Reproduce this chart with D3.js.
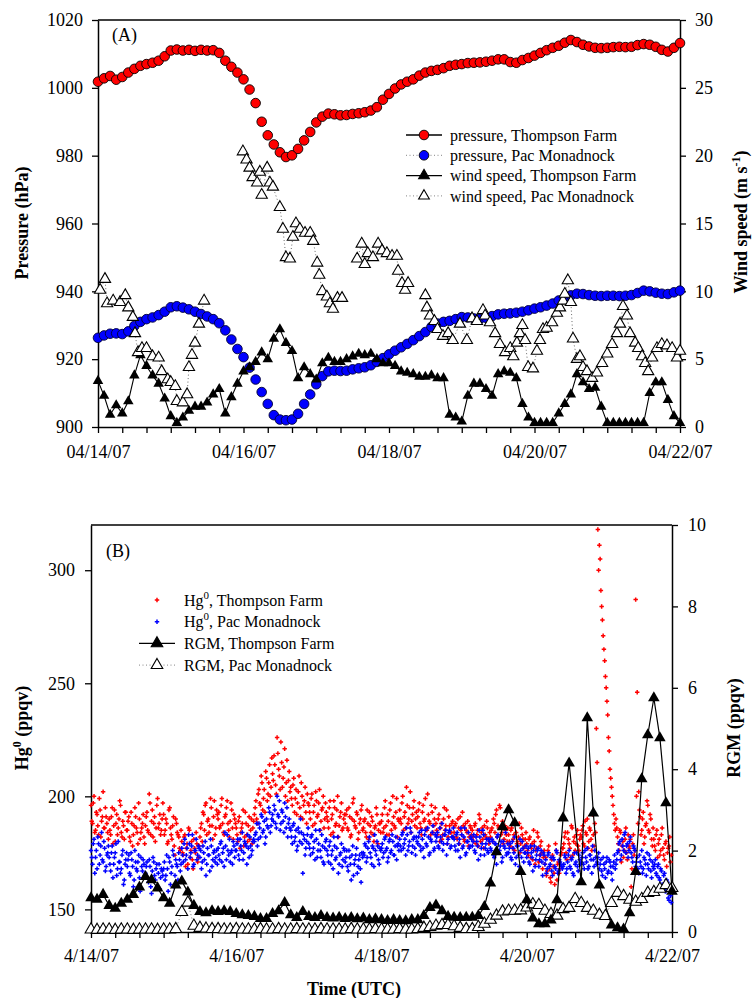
<!DOCTYPE html>
<html>
<head>
<meta charset="utf-8">
<title>Pressure, wind speed, Hg0 and RGM</title>
<style>
  body { margin: 0; background: #fff; }
  svg text { font-family: "Liberation Serif", "Times New Roman", serif; fill: #000; }
</style>
</head>
<body>
<div id="chart"></div>
<script src="https://cdn.jsdelivr.net/npm/d3@7"></script>
<script>
// ---------- data ----------
// panel A: 2-hourly, hours since 04/14/07 00:00 UTC (0..192)
var pressTF = [
  1001.8, 1002.8, 1003.5, 1002.4, 1003.2, 1004.5, 1005.6, 1006.5, 1007.0, 1007.4, 1008.0, 1009.3,
  1011.0, 1011.3, 1011.0, 1011.2, 1010.9, 1011.2, 1011.0, 1011.1, 1010.3, 1008.0, 1006.2, 1004.5,
  1002.5, 999.5, 995.5, 990.0, 986.0, 983.3, 981.0, 979.6, 980.1, 982.0, 984.5, 987.0,
  989.8, 991.5, 992.4, 992.2, 991.9, 992.0, 992.3, 992.5, 992.8, 993.3, 994.3, 996.5,
  998.2, 999.8, 1001.0, 1001.8, 1002.5, 1003.6, 1004.5, 1005.0, 1005.3, 1005.8, 1006.5, 1006.8,
  1007.0, 1007.3, 1007.4, 1007.5, 1007.7, 1008.0, 1008.4, 1008.4, 1007.6, 1007.4, 1008.2, 1008.8,
  1009.5, 1010.3, 1011.1, 1011.8, 1012.4, 1013.3, 1014.1, 1013.5, 1012.7, 1012.2, 1011.8, 1011.7,
  1011.8, 1012.0, 1012.1, 1012.0, 1012.1, 1012.6, 1012.9, 1012.7, 1012.1, 1011.2, 1010.7, 1011.8,
  1013.2
];
var pressPM = [
  926.3, 927.0, 927.5, 927.6, 927.4, 928.2, 929.8, 931.0, 931.8, 932.3, 933.0, 934.0,
  935.3, 935.6, 935.2, 934.7, 934.0, 933.3, 932.6, 931.8, 930.6, 928.5, 925.8, 923.0,
  920.6, 917.5, 914.0, 910.3, 906.8, 903.5, 902.2, 902.0, 902.2, 903.9, 906.8, 909.6,
  912.6, 915.0, 916.4, 916.6, 916.5, 916.6, 917.0, 917.3, 917.6, 918.2, 919.2, 920.3,
  921.4, 922.5, 923.5, 924.5, 925.6, 926.8, 928.0, 929.5, 930.5, 931.0, 931.3, 931.8,
  932.4, 932.3, 932.0, 931.9, 932.2, 932.7, 933.2, 933.4, 933.5, 933.7, 934.0, 934.4,
  934.9, 935.3, 935.8, 936.4, 937.3, 938.2, 938.8, 939.3, 939.2, 938.9, 938.7, 938.6,
  938.7, 938.7, 938.6, 938.7, 938.9, 939.5, 940.2, 940.0, 939.6, 939.3, 939.2, 939.7,
  940.2
];
var windTF = [
  3.4, 2.3, 0.9, 1.6, 1.0, 1.9, 3.8, 5.3, 4.5, 3.8, 3.2, 2.1,
  0.8, 0.3, 0.7, 1.2, 1.5, 1.5, 1.8, 2.4, 2.8, 1.0, 2.2, 3.2,
  4.1, 4.4, 4.8, 5.5, 5.0, 6.5, 7.2, 6.2, 5.6, 3.6, 4.4, 3.9,
  3.5, 4.7, 5.1, 4.8, 4.8, 5.0, 5.2, 5.4, 5.3, 5.4, 5.0, 4.7,
  4.7, 4.5, 4.1, 4.0, 3.9, 3.7, 3.7, 3.8, 3.6, 3.6, 0.9, 0.7,
  0.4, 2.3, 3.2, 3.2, 2.8, 2.3, 3.9, 4.1, 4.0, 3.6, 1.7, 0.7,
  0.3, 0.3, 0.3, 0.3, 1.0, 1.7, 2.4, 3.9, 3.3, 2.8, 2.9, 1.5,
  0.3, 0.3, 0.3, 0.3, 0.3, 0.3, 0.3, 2.5, 3.3, 3.3, 2.0, 0.8,
  0.3
];
// Pac Monadnock wind: irregular times (hours) with gaps
var windPMHours = [
  0.7, 2.3, 3, 5, 7.3, 9, 10, 11.5, 12.2, 13.2, 14.5, 16, 18, 20, 21, 23, 24, 25.5, 26, 28, 29.4, 30, 31, 32, 33.3, 35,
  47.8, 49, 50, 51, 52.5, 53.4, 54, 55.8, 56.7, 57.7, 60, 61, 62, 63.3, 64.3, 65.3, 66.6, 68.3, 70, 71, 72.3, 73, 74, 75.5, 76.5, 77.5, 79, 80.5,
  85.5, 87, 88, 89, 90.7, 92.4, 93.7, 95.3, 97, 98.6, 99, 100.3, 101.3, 102.3,
  108, 108.5, 109.5, 111, 112, 113.8, 115.5, 117, 119.4, 121.7, 123.4, 125, 127, 127.7, 129.3, 131, 132.6, 134.3, 136, 137,
  138.2, 139.2, 140, 140.9, 141.9, 143.5, 144.8, 145.8, 146.8, 148, 149.8, 151.4, 152.4, 153.4, 154, 155, 156, 156.7, 158, 159,
  160, 161.3, 163, 164.6, 166.3, 168, 169.6, 171.2, 172.2, 173.2, 174.5, 175.5, 177.2, 178.2, 179.5, 180.5, 181.5, 182.8, 184.4, 186,
  187.7, 189.4, 191, 192
];
var windPM = [
  10.1, 10.9, 9.1, 9.3, 9.2, 9.7, 8.8, 8.1, 6.9, 5.5, 5.8, 5.8, 5.2, 5.1, 4.1, 3.5, 3.3, 3.0, 1.9, 1.8, 2.4, 4.4, 5.3, 6.2, 7.6, 9.3,
  20.3, 19.7, 19.1, 18.4, 18.0, 18.8, 17.1, 19.1, 18.0, 17.7, 16.2, 14.6, 12.5, 12.4, 14.0, 15.0, 14.6, 14.3, 14.3, 13.7, 12.1, 11.2, 10.0, 9.6, 9.1, 8.7, 9.5, 9.5,
  12.4, 13.5, 12.0, 12.8, 12.5, 13.5, 13.0, 12.8, 12.6, 12.6, 11.5, 10.6, 10.1, 10.6,
  9.7, 8.8, 8.2, 7.8, 7.2, 6.7, 6.9, 6.4, 7.6, 6.4, 8.0, 7.8, 8.6, 8.2, 7.7, 6.9, 6.1, 5.5, 5.8, 5.2,
  6.2, 6.9, 7.5, 6.4, 4.4, 4.3, 5.6, 6.4, 7.2, 7.3, 7.7, 8.4, 8.8, 9.3, 9.8, 10.8, 9.2, 6.5, 5.0, 5.2,
  4.4, 4.1, 3.6, 4.0, 4.7, 5.4, 6.1, 6.9, 7.6, 8.9, 8.2, 6.9, 6.2, 5.8, 5.2, 4.7, 4.1, 5.1, 5.8, 6.1,
  6.0, 5.8, 5.1, 5.6
];

// panel B: Hg0 every 30 min from 4/14/07 00:00 UTC (ppqv), on the hour and half hour
var hg0TF = [
  196,188,200,185,192,183,194,189,202,186,191,184, 190,183,195,187,180,192,186,198,184,189,181,193,
  185,191,180,188,183,195,186,179,190,184,188,182, 187,193,184,197,189,182,191,186,199,188,183,190,
  192,185,188,180,195,183,187,178,190,184,182,176, 180,174,183,177,170,185,176,172,181,175,179,173,
  182,188,193,185,197,189,184,199,187,191,183,194, 190,186,196,188,183,192,198,185,189,194,181,190,
  186,180,191,184,188,178,193,183,187,181,190,186, 192,198,188,203,196,206,199,193,208,201,214,204,
  210,218,205,226,212,203,215,208,221,206,198,211, 204,196,208,199,192,202,195,206,190,198,193,201,
  196,190,201,193,188,198,192,203,189,195,186,197, 191,186,198,190,184,195,188,200,187,193,185,190,
  188,194,185,191,183,197,189,186,192,184,190,196, 186,190,182,188,193,184,189,180,187,192,185,188,
  189,184,195,187,192,183,197,188,191,186,199,190, 194,188,200,191,186,196,190,202,189,195,187,193,
  191,197,186,193,189,199,185,192,188,196,184,190, 188,183,192,186,181,190,185,194,182,187,184,189,
  184,188,181,186,191,183,187,180,185,189,182,186, 185,180,188,183,178,190,184,181,187,182,186,179,
  182,186,190,184,194,187,196,183,189,181,185,180, 183,178,186,181,176,184,180,188,179,183,177,181,
  179,174,182,177,172,180,176,184,171,178,175,173, 170,165,176,168,162,174,166,179,163,171,168,175,
  177,182,175,184,179,173,186,180,176,183,178,181, 182,187,178,184,190,180,185,176,183,188,230,318,
  311,291,278,265,253,242,226,212,204,196,188,190, 182,176,184,178,173,181,175,183,177,160,179,174,
  287,246,202,191,185,193,182,188,196,184,190,178, 181,176,185,179,174,183,177,172,180,175,178,171
];
// same station, samples at :15 and :45
var hg0TFq = [
  189,197,184,193,187,199,182,191,186,195,188,181, 185,191,179,194,188,183,190,196,182,187,193,185,
  189,182,193,178,187,191,184,197,181,186,192,179, 191,185,201,183,194,188,180,196,186,192,185,197,
  183,190,179,194,186,181,191,174,188,183,177,185, 175,182,169,179,186,173,180,168,177,184,171,178,
  186,180,192,196,183,190,187,195,181,198,186,192, 193,187,199,184,191,195,188,182,197,186,192,188,
  183,189,177,186,194,182,188,180,191,185,179,189, 195,190,201,197,209,194,203,211,198,206,200,217,
  207,214,201,219,209,224,204,213,200,216,207,202, 199,205,193,203,197,209,191,200,196,204,188,197,
  193,199,187,196,202,191,197,185,194,200,190,193, 189,195,183,192,198,187,194,182,191,197,186,192,
  192,186,195,182,190,199,187,193,181,188,194,185, 189,184,194,181,187,191,183,186,195,179,188,184,
  192,186,198,183,189,194,185,200,187,193,182,189, 190,197,185,193,204,188,195,184,192,198,190,186,
  194,188,183,196,190,186,201,189,183,193,187,195, 185,190,180,188,183,195,187,179,191,184,188,182,
  187,182,190,179,185,193,181,188,184,178,187,183, 182,187,179,185,192,180,186,177,183,189,181,184,
  185,180,188,192,182,186,195,184,179,187,183,186, 180,185,177,183,188,179,182,175,186,181,178,184,
  176,181,173,179,185,170,177,182,174,180,168,176, 173,167,178,164,172,169,161,176,170,166,174,177,
  179,184,172,181,177,187,174,182,179,185,176,183, 185,179,189,183,177,186,181,192,178,184,215,300,
  305,284,271,260,248,236,220,208,200,192,185,186, 179,185,171,180,176,186,172,178,181,168,183,176,
  200,188,194,183,190,179,187,198,185,192,181,186, 178,183,173,181,176,186,174,179,169,177,182,174
];
var hg0PM = [
  176,170,181,173,168,179,174,184,171,177,169,175, 173,167,178,170,175,165,180,171,168,176,163,172,
  169,174,165,172,160,176,168,171,164,173,167,170, 166,171,162,169,157,173,165,168,160,170,164,167,
  168,163,174,158,171,166,176,160,172,169,175,167, 177,171,181,174,168,179,175,183,170,176,172,178,
  173,168,178,172,165,177,174,181,169,175,171,176, 177,172,180,175,169,178,183,174,171,176,180,173,
  176,181,172,178,184,175,179,170,177,182,174,180, 180,184,178,188,182,191,185,179,190,186,193,187,
  192,196,188,200,191,185,194,189,197,186,182,190, 185,179,188,182,176,186,180,184,166,181,177,183,
  179,174,183,177,172,181,176,185,173,178,170,180, 176,171,180,174,168,178,173,182,170,175,169,177,
  171,176,167,173,163,178,170,174,166,172,168,175, 175,179,171,177,182,173,178,169,176,180,172,177,
  177,173,181,176,171,180,175,183,174,178,172,179, 181,176,184,179,174,183,178,186,175,181,177,182,
  179,184,176,181,173,185,178,182,175,180,187,177, 180,184,177,182,188,179,183,174,181,185,178,182,
  181,176,184,179,173,183,178,186,175,180,177,182, 178,183,175,180,172,182,177,185,174,179,176,181,
  177,181,174,179,170,183,176,180,173,178,184,175, 175,179,172,177,182,173,178,169,176,180,171,175,
  173,177,170,175,167,178,172,176,169,174,171,175, 170,166,174,169,173,165,172,168,175,167,171,169,
  169,174,166,171,176,168,173,165,170,175,167,172, 171,175,168,173,177,169,174,166,172,176,170,173,
  168,172,165,170,164,173,167,171,166,169,174,170, 175,179,172,181,176,184,178,173,180,175,171,177,
  169,173,166,171,176,168,172,165,170,174,167,171, 168,172,165,170,163,167,160,166,158,162,154,156
];
var hg0PMq = [
  173,179,166,176,182,170,178,172,180,167,174,178, 170,175,164,173,179,168,171,166,174,161,170,175,
  172,166,175,169,163,171,167,174,158,169,172,165, 169,164,172,160,167,171,163,170,166,159,168,165,
  171,165,168,173,161,169,174,165,170,163,172,170, 174,179,172,177,183,173,178,169,176,181,174,177,
  176,171,175,180,170,174,167,178,172,176,173,170, 174,179,171,177,184,172,176,181,175,170,178,176,
  179,174,181,176,172,180,178,183,173,178,176,181, 183,188,181,186,192,184,189,182,187,195,184,190,
  189,194,186,192,198,188,193,184,191,195,188,186, 182,187,180,185,178,184,190,179,183,174,180,186,
  177,182,175,180,185,173,179,176,183,171,177,181, 174,178,170,176,182,172,177,166,174,179,172,176,
  173,169,176,170,174,165,172,177,169,174,162,173, 174,178,173,180,175,170,177,183,174,178,170,176,
  179,175,182,177,173,181,176,180,174,182,178,176, 178,183,177,181,186,176,180,184,178,182,174,180,
  182,178,185,177,183,179,186,174,181,184,176,183, 182,178,186,180,176,183,185,179,184,177,182,186,
  178,183,176,181,186,177,182,174,180,184,178,181, 180,176,182,178,185,174,179,183,177,181,175,180,
  176,180,173,179,182,175,178,171,180,177,174,179, 177,173,180,175,170,178,174,181,173,177,175,178,
  175,171,178,173,176,169,174,177,172,176,165,174, 172,168,175,170,167,173,169,176,166,172,170,168,
  170,173,168,174,169,172,166,175,171,169,174,170, 173,170,176,171,168,174,172,178,169,173,171,175,
  170,167,173,168,171,166,172,169,163,171,168,172, 176,180,174,178,183,175,179,176,182,173,178,176,
  171,168,174,169,166,173,170,175,168,172,164,169, 170,166,169,164,168,161,165,158,163,155,159,153
];
// RGM every 2 h (ppqv); null = no sample
var rgmTF = [
  0.84, 0.80, 0.92, 0.65, 0.58, 0.70, 0.80, 0.92, 1.10, 1.36, 1.28, 1.08,
  0.84, 0.70, 1.15, 1.25, 0.98, 0.65, 0.50, 0.47, 0.52, 0.50, 0.52, 0.50,
  0.45, 0.42, 0.40, 0.38, 0.33, 0.33, 0.45, 0.52, 0.72, 0.42, 0.35, 0.50,
  0.38, 0.35, 0.40, 0.35, 0.34, 0.36, 0.33, 0.35, 0.32, 0.34, 0.30, 0.32,
  0.30, 0.28, 0.30, 0.28, 0.27, 0.30, 0.30, 0.40, 0.60, 0.66, 0.52, 0.38,
  0.36, 0.35, 0.36, 0.36, 0.40, 0.62, 1.20, 1.97, 2.58, 3.00, 2.68, 1.48,
  0.79, 0.34, 0.20, 0.20, 0.29, 0.79, 2.80, 4.15, null, 1.23, 5.26, 2.92,
  1.15, null, 0.17, 0.10, 0.07, 0.47, 1.48, 3.76, 4.84, 5.75, 4.77, 3.17,
  1.00
];
var rgmPM = [
  0.06, 0.05, 0.06, 0.06, 0.05, 0.06, 0.06, 0.05, 0.06, 0.06, 0.06, 0.05,
  0.06, 0.06, 0.07, 0.49, 0.72, 0.15, 0.10, 0.08, 0.07, 0.07, 0.06, 0.06,
  0.07, 0.06, 0.06, 0.06, 0.07, 0.06, 0.06, 0.07, 0.06, 0.06, 0.07, 0.06,
  0.06, 0.06, 0.07, 0.06, 0.06, 0.06, 0.06, 0.07, 0.06, 0.06, 0.06, 0.07,
  0.06, 0.06, 0.06, 0.07, 0.06, 0.06, 0.07, 0.10, 0.12, 0.15, 0.17, 0.17,
  0.14, 0.10, 0.07, 0.07, 0.12, 0.20, 0.30, 0.40, 0.50, 0.52, 0.52, 0.53,
  0.60, 0.68, 0.66, 0.52, 0.44, 0.40, 0.56, 0.59, 0.81, 0.71, 0.59, 0.52,
  0.42, 0.39, 0.71, 0.96, 0.88, 0.79, 0.74, 0.81, 0.96, 0.98, 1.06, 1.15,
  1.08
];

var dateLabelsA = ["04/14/07", "04/16/07", "04/18/07", "04/20/07", "04/22/07"];
var dateLabelsB = ["4/14/07", "4/16/07", "4/18/07", "4/20/07", "4/22/07"];
var pressTicks = [900, 920, 940, 960, 980, 1000, 1020];
var windTicks = [0, 5, 10, 15, 20, 25, 30];
var hgTicks = [150, 200, 250, 300];
var rgmTicks = [0, 2, 4, 6, 8, 10];

// ---------- chart ----------
var svg = d3.select("#chart").append("svg")
  .attr("width", 753).attr("height", 998);

var tri = d3.symbol().type(d3.symbolTriangle);
var cross = d3.symbol().type(d3.symbolCross).size(11);

function every2h(arr) {
  return arr.map(function(v, i) { return {h: i * 2, v: v}; })
    .filter(function(d) { return d.v !== null; });
}

function styleAxis(g) {
  g.attr("font-family", '"Liberation Serif", "Times New Roman", serif')
    .attr("font-size", 18);
  g.select(".domain").attr("stroke-width", 1.5);
  g.selectAll(".tick line").attr("stroke-width", 1.3);
  g.selectAll(".tick text").attr("fill", "#000");
}

function drawFrame(box, x, yL, yR, lTicks, rTicks, dates, padX, padY) {
  svg.append("line")
    .attr("x1", box.l).attr("x2", box.r).attr("y1", box.t).attr("y2", box.t)
    .attr("stroke", "#000").attr("stroke-width", 1.5);

  svg.append("g").attr("transform", "translate(0," + box.b + ")")
    .call(d3.axisBottom(x)
      .tickValues(d3.range(0, 193, 8))
      .tickSize(6).tickSizeOuter(0).tickPadding(padX)
      .tickFormat(function(h) { return h % 48 === 0 ? dates[h / 48] : ""; }))
    .call(styleAxis);

  svg.append("g").attr("transform", "translate(" + box.l + ",0)")
    .call(d3.axisLeft(yL).tickValues(lTicks).tickFormat(d3.format("d"))
      .tickSize(6).tickSizeOuter(0).tickPadding(padY))
    .call(styleAxis);

  svg.append("g").attr("transform", "translate(" + box.r + ",0)")
    .call(d3.axisRight(yR).tickValues(rTicks).tickFormat(d3.format("d"))
      .tickSize(6).tickSizeOuter(0).tickPadding(padY))
    .call(styleAxis);
}

function vTitle(x, y, parts) {
  var t = svg.append("text")
    .attr("transform", "translate(" + x + "," + y + ") rotate(-90)")
    .attr("text-anchor", "middle")
    .attr("font-weight", "bold").attr("font-size", 18);
  parts.forEach(function(p) {
    var s = t.append("tspan").text(p.s);
    if (p.sup) s.attr("font-size", 12).attr("dy", -7);
    if (p.down) s.attr("dy", 7);
  });
}

// split a series where the gap between samples is long, so the dotted line breaks
function splitGaps(pts, maxGap) {
  var out = [], cur = [];
  pts.forEach(function(d, i) {
    if (i > 0 && d.h - pts[i - 1].h > maxGap) { out.push(cur); cur = []; }
    cur.push(d);
  });
  out.push(cur);
  return out;
}

// ===== Panel A =====
var boxA = {l: 98, r: 680, t: 20, b: 427};
var xA = d3.scaleLinear().domain([0, 192]).range([boxA.l, boxA.r]);
var yP = d3.scaleLinear().domain([900, 1020]).range([boxA.b, boxA.t]);
var yW = d3.scaleLinear().domain([0, 30]).range([boxA.b, boxA.t]);

drawFrame(boxA, xA, yP, yW, pressTicks, windTicks, dateLabelsA, 12, 9);

var gA = svg.append("g");

gA.selectAll("circle.ptf").data(every2h(pressTF)).enter().append("circle")
  .attr("cx", function(d) { return xA(d.h); })
  .attr("cy", function(d) { return yP(d.v); })
  .attr("r", 4.8).attr("fill", "#ff0000").attr("stroke", "#000").attr("stroke-width", 0.9);

gA.selectAll("circle.ppm").data(every2h(pressPM)).enter().append("circle")
  .attr("cx", function(d) { return xA(d.h); })
  .attr("cy", function(d) { return yP(d.v); })
  .attr("r", 4.8).attr("fill", "#0000ff").attr("stroke", "#000033").attr("stroke-width", 0.9);

var lineA = d3.line().x(function(d) { return xA(d.h); }).y(function(d) { return yW(d.v); });

var windTFd = every2h(windTF);
gA.append("path").datum(windTFd)
  .attr("fill", "none").attr("stroke", "#000").attr("stroke-width", 1.1)
  .attr("d", lineA);
gA.selectAll("path.wtf").data(windTFd).enter().append("path")
  .attr("transform", function(d) { return "translate(" + xA(d.h) + "," + yW(d.v) + ")"; })
  .attr("d", tri.size(48)()).attr("fill", "#000");

var windPMd = windPMHours.map(function(h, i) { return {h: h, v: windPM[i]}; });
gA.selectAll("path.wpmline").data(splitGaps(windPMd, 4)).enter().append("path")
  .attr("fill", "none").attr("stroke", "#444").attr("stroke-width", 0.8)
  .attr("stroke-dasharray", "1,2.5")
  .attr("d", lineA);
gA.selectAll("path.wpm").data(windPMd).enter().append("path")
  .attr("transform", function(d) { return "translate(" + xA(d.h) + "," + yW(d.v) + ")"; })
  .attr("d", tri.size(55)()).attr("fill", "#fff").attr("stroke", "#000").attr("stroke-width", 1.1);

svg.append("text").attr("x", 112).attr("y", 41).attr("font-size", 18).text("(A)");

vTitle(28, 223, [{s: "Pressure (hPa)"}]);
vTitle(747, 222, [{s: "Wind speed (m s"}, {s: "-1", sup: true}, {s: ")", down: true}]);

// legend A
var legA = [
  {label: "pressure, Thompson Farm", kind: "circle", fill: "#ff0000", dash: false},
  {label: "pressure, Pac Monadnock", kind: "circle", fill: "#0000ff", dash: true},
  {label: "wind speed, Thompson Farm", kind: "tri", fill: "#000", dash: false},
  {label: "wind speed, Pac Monadnock", kind: "tri", fill: "#fff", dash: true}
];
legA.forEach(function(d, i) {
  var y = 135 + i * 20.3;
  svg.append("line").attr("x1", 406).attr("x2", 442).attr("y1", y).attr("y2", y)
    .attr("stroke", d.dash ? "#666" : "#000").attr("stroke-width", d.dash ? 0.8 : 1.3)
    .attr("stroke-dasharray", d.dash ? "1,2.5" : null);
  if (d.kind === "circle") {
    svg.append("circle").attr("cx", 424).attr("cy", y).attr("r", 4.8)
      .attr("fill", d.fill).attr("stroke", "#000").attr("stroke-width", 0.9);
  } else {
    svg.append("path").attr("transform", "translate(424," + y + ")")
      .attr("d", tri.size(50)()).attr("fill", d.fill).attr("stroke", "#000").attr("stroke-width", 1.1);
  }
  svg.append("text").attr("x", 450).attr("y", y).attr("dy", "0.35em")
    .attr("font-size", 16).text(d.label);
});

// ===== Panel B =====
var boxB = {l: 91, r: 672, t: 525, b: 932};
var xB = d3.scaleLinear().domain([0, 192]).range([boxB.l, boxB.r]);
var yHg = d3.scaleLinear().domain([140, 320]).range([boxB.b, boxB.t]);
var yR = d3.scaleLinear().domain([0, 10]).range([boxB.b, boxB.t]);

drawFrame(boxB, xB, yHg, yR, hgTicks, rgmTicks, dateLabelsB, 11, 10);

var gB = svg.append("g");

function hgDots(arr, offset, colour) {
  gB.append("g").selectAll("path").data(arr).enter().append("path")
    .attr("transform", function(v, i) { return "translate(" + xB(i * 0.5 + offset) + "," + yHg(v) + ")"; })
    .attr("d", cross()).attr("fill", colour);
}
hgDots(hg0TF, 0, "#ff0000");
hgDots(hg0TFq, 0.25, "#ff0000");
hgDots(hg0PM, 0, "#0000ff");
hgDots(hg0PMq, 0.25, "#0000ff");

var lineB = d3.line().x(function(d) { return xB(d.h); }).y(function(d) { return yR(d.v); });

var rgmPMd = every2h(rgmPM);
gB.append("path").datum(rgmPMd)
  .attr("fill", "none").attr("stroke", "#444").attr("stroke-width", 0.8)
  .attr("stroke-dasharray", "1,2.5")
  .attr("d", lineB);
gB.selectAll("path.rpm").data(rgmPMd).enter().append("path")
  .attr("transform", function(d) { return "translate(" + xB(d.h) + "," + yR(d.v) + ")"; })
  .attr("d", tri.size(60)()).attr("fill", "#fff").attr("stroke", "#000").attr("stroke-width", 1.1);

var rgmTFd = every2h(rgmTF);
gB.append("path").datum(rgmTFd)
  .attr("fill", "none").attr("stroke", "#000").attr("stroke-width", 1.2)
  .attr("d", lineB);
gB.selectAll("path.rtf").data(rgmTFd).enter().append("path")
  .attr("transform", function(d) { return "translate(" + xB(d.h) + "," + yR(d.v) + ")"; })
  .attr("d", tri.size(58)()).attr("fill", "#000");

svg.append("text").attr("x", 106).attr("y", 557).attr("font-size", 18).text("(B)");

vTitle(28, 728, [{s: "Hg"}, {s: "0", sup: true}, {s: " (ppqv)", down: true}]);
vTitle(740, 728, [{s: "RGM (ppqv)"}]);

svg.append("text").attr("x", 354).attr("y", 995).attr("text-anchor", "middle")
  .attr("font-weight", "bold").attr("font-size", 18).text("Time (UTC)");

// legend B
var legB = [
  {label: "Thompson Farm", hg: true, kind: "dot", fill: "#ff0000"},
  {label: "Pac Monadnock", hg: true, kind: "dot", fill: "#0000ff"},
  {label: "RGM, Thompson Farm", kind: "tri", fill: "#000", line: "solid"},
  {label: "RGM, Pac Monadnock", kind: "tri", fill: "#fff", line: "dot"}
];
legB.forEach(function(d, i) {
  var y = 600 + i * 21.7;
  if (d.line) {
    svg.append("line").attr("x1", 139).attr("x2", 175).attr("y1", y).attr("y2", y)
      .attr("stroke", d.line === "dot" ? "#666" : "#000")
      .attr("stroke-width", d.line === "dot" ? 0.8 : 1.3)
      .attr("stroke-dasharray", d.line === "dot" ? "1,2.5" : null);
  }
  if (d.kind === "dot") {
    svg.append("path").attr("transform", "translate(157," + y + ")")
      .attr("d", cross()).attr("fill", d.fill);
  } else {
    svg.append("path").attr("transform", "translate(157," + y + ")")
      .attr("d", tri.size(58)()).attr("fill", d.fill).attr("stroke", "#000").attr("stroke-width", 1.1);
  }
  var t = svg.append("text").attr("x", 184).attr("y", y).attr("dy", "0.35em").attr("font-size", 16);
  if (d.hg) {
    t.append("tspan").text("Hg");
    t.append("tspan").attr("font-size", 11).attr("dy", -7).text("0");
    t.append("tspan").attr("dy", 7).text(", " + d.label);
  } else {
    t.text(d.label);
  }
});
</script>
</body>
</html>
